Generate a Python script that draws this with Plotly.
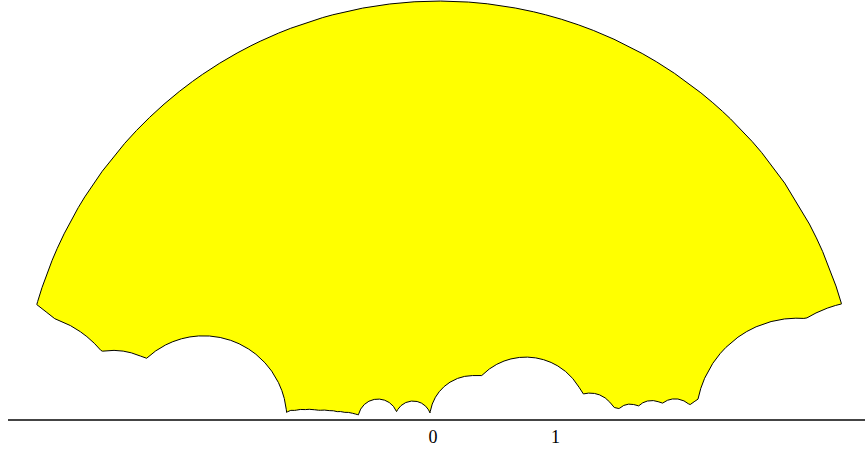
import numpy as np
import plotly.graph_objects as go

# Outer bounding circle (data units)
outer_center = 0.051
outer_radius = 3.416

# Removed half-discs (centres on the real axis) - data units
circle_centers = [-3.902, -3.375, -2.612, -1.873,
                  -1.147, -1.086, -1.020, -0.959, -0.898, -0.833, -0.767, -0.706, -0.657, -0.621,
                  -0.449, -0.163, 0.327, 0.758, 1.282, 1.478, 1.608, 1.785, 1.976, 2.212,
                  2.971, 3.551]
circle_radii = [1.149, 0.869, 0.561, 0.680,
                0.072, 0.078, 0.080, 0.076, 0.074, 0.070, 0.062, 0.056, 0.047, 0.036,
                0.163, 0.147, 0.355, 0.506, 0.212, 0.094, 0.122, 0.151, 0.165, 0.163,
                0.824, 0.965]

tick_values = [0, 1]
tick_labels = ["0", "1"]

# Build region: inside outer circle, above envelope of removed circles
xs = np.linspace(outer_center - outer_radius, outer_center + outer_radius, 40001)
y_top = np.sqrt(np.clip(outer_radius**2 - (xs - outer_center)**2, 0, None))
y_low = np.zeros_like(xs)
for c, r in zip(circle_centers, circle_radii):
    y_low = np.maximum(y_low, np.sqrt(np.clip(r**2 - (xs - c)**2, 0, None)))
inside = y_top > y_low
idx = np.where(inside)[0]
i0, i1 = idx[0], idx[-1]
xr = xs[i0:i1 + 1]
px = np.concatenate([xr, xr[::-1], [xr[0]]])
py = np.concatenate([y_low[i0:i1 + 1], y_top[i0:i1 + 1][::-1], [y_low[i0]]])

fig = go.Figure()
fig.add_trace(go.Scatter(x=px, y=py, mode="lines", fill="toself",
                         fillcolor="#ffff00", line=dict(color="black", width=1),
                         hoverinfo="skip", showlegend=False))

scale = 122.5
fig.update_layout(
    width=865, height=450,
    margin=dict(l=8, r=0, t=0, b=30.5),
    paper_bgcolor="white", plot_bgcolor="white",
    xaxis=dict(range=[(8 - 433) / scale, (865 - 433) / scale],
               tickvals=tick_values, ticktext=tick_labels,
               showgrid=False, zeroline=False, showline=True,
               linecolor="#444444", linewidth=1.5,
               ticks="outside", ticklen=1, tickcolor="rgba(0,0,0,0)",
               tickfont=dict(family="Liberation Serif", size=18, color="black")),
    yaxis=dict(range=[0, 419.5 / scale], visible=False, showgrid=False, zeroline=False),
)
fig.write_html("out.html", config={"displayModeBar": False},
               post_script="document.body.style.margin='0';document.body.style.overflow='hidden';")
